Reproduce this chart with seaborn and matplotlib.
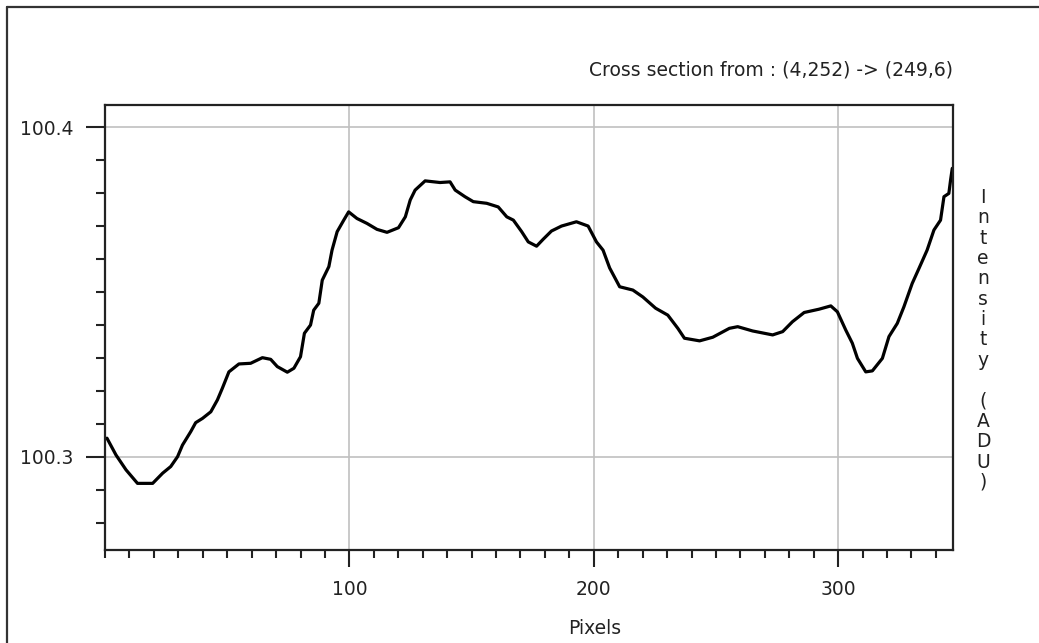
import numpy as np
import pandas as pd
import matplotlib
matplotlib.use("Agg")
import matplotlib.pyplot as plt
from matplotlib.lines import Line2D
from matplotlib.ticker import MultipleLocator
import seaborn as sns

# ---- data ----
pixels = [0.8, 4.5, 8.6, 13.3, 19.5, 23.6, 26.9, 29.7, 31.7, 35.1,
          37.1, 39.9, 43.3, 46.0, 48.0, 50.7, 54.8, 59.6, 64.4, 67.8,
          70.5, 74.6, 77.3, 80.0, 81.6, 84.1, 85.4, 87.5, 88.9, 91.6,
          92.9, 95.0, 97.7, 99.7, 103.1, 107.2, 111.3, 115.4, 120.1, 122.9,
          124.9, 126.9, 131.0, 137.1, 141.2, 143.3, 147.3, 150.7, 156.2, 160.9,
          164.4, 167.1, 170.5, 173.2, 176.6, 179.3, 182.7, 186.8, 192.9, 197.7,
          201.1, 203.8, 206.5, 210.6, 216.0, 220.1, 225.3, 230.3, 234.4, 237.1,
          243.3, 248.7, 255.5, 258.9, 265.0, 273.2, 277.3, 281.3, 286.1, 292.2,
          297.0, 299.7, 303.1, 305.8, 307.9, 311.3, 314.0, 318.1, 320.8, 324.2,
          326.9, 330.3, 333.1, 336.4, 339.2, 341.9, 343.3, 345.3, 346.0, 346.7]
intensity = [100.3057, 100.3006, 100.2961, 100.2920, 100.2920, 100.2951, 100.2971, 100.3001, 100.3036, 100.3077,
             100.3104, 100.3117, 100.3137, 100.3173, 100.3208, 100.3258, 100.3282, 100.3284, 100.3301, 100.3296,
             100.3274, 100.3257, 100.3269, 100.3304, 100.3375, 100.3400, 100.3445, 100.3466, 100.3536, 100.3577,
             100.3627, 100.3683, 100.3718, 100.3743, 100.3723, 100.3708, 100.3690, 100.3681, 100.3695, 100.3728,
             100.3779, 100.3809, 100.3837, 100.3832, 100.3834, 100.3809, 100.3789, 100.3774, 100.3769, 100.3758,
             100.3728, 100.3718, 100.3683, 100.3652, 100.3639, 100.3660, 100.3685, 100.3700, 100.3713, 100.3700,
             100.3652, 100.3627, 100.3573, 100.3516, 100.3506, 100.3485, 100.3451, 100.3430, 100.3390, 100.3360,
             100.3352, 100.3363, 100.3390, 100.3395, 100.3382, 100.3370, 100.3380, 100.3410, 100.3438, 100.3448,
             100.3458, 100.3440, 100.3385, 100.3345, 100.3299, 100.3258, 100.3261, 100.3299, 100.3365, 100.3405,
             100.3455, 100.3526, 100.3572, 100.3627, 100.3688, 100.3718, 100.3789, 100.3799, 100.3839, 100.3875]
x_major = [100, 200, 300]
y_major = [100.3, 100.4]
title_text = "Cross section from : (4,252) -> (249,6)"
x_label = "Pixels"
y_label = "Intensity (ADU)"

sns.set_style("ticks")
plt.rcParams['font.family'] = ['DejaVu Sans']
txt_color = '#222222'
FS = 13.5

W, H = 1039, 643
fig = plt.figure(figsize=(W / 100, H / 100), dpi=100)
fig.patch.set_facecolor('white')

L, R, T, B = 105, 953, 105, 550
ax = fig.add_axes([L / W, 1 - B / H, (R - L) / W, (B - T) / H])

df = pd.DataFrame({"Pixels": pixels, "Intensity": intensity})
sns.lineplot(data=df, x="Pixels", y="Intensity", color='black', linewidth=2.3,
             ax=ax, estimator=None, sort=False)

ax.set_xlim(0, 347)
ax.set_ylim(100.2718, 100.4067)

ax.set_xticks(x_major)
ax.set_xticklabels([str(v) for v in x_major])
ax.set_yticks(y_major)
ax.set_yticklabels([f"{v:.1f}" for v in y_major])
ax.xaxis.set_minor_locator(MultipleLocator(10))
ax.yaxis.set_minor_locator(MultipleLocator(0.01))

ax.grid(True, which='major', color='#c0c0c0', linewidth=1.2)
ax.set_axisbelow(True)

for s in ax.spines.values():
    s.set_color('#222222')
    s.set_linewidth(1.6)
    s.set_visible(True)

ax.tick_params(axis='x', which='major', length=12.5, width=1.5, color='#222222',
               labelsize=FS, labelcolor=txt_color, pad=9, direction='out')
ax.tick_params(axis='x', which='minor', length=6, width=1.5, color='#222222', direction='out')
ax.tick_params(axis='y', which='major', length=13.5, width=1.5, color='#222222',
               labelsize=FS, labelcolor=txt_color, pad=9, direction='out')
ax.tick_params(axis='y', which='minor', length=6.5, width=1.5, color='#222222', direction='out')

ax.set_xlabel(x_label, fontsize=FS, color=txt_color, va='center', ha='center')
ax.xaxis.set_label_coords((595 - L) / (R - L), (B - 629) / (B - T))
ax.set_ylabel("")

ax.text(1.0, (B - 70) / (B - T), title_text, transform=ax.transAxes,
        ha='right', va='center', fontsize=FS, color=txt_color)

fig.text(983 / W, 1 - 340 / H, "\n".join(list(y_label)), ha='center', va='center',
         fontsize=FS, color=txt_color, linespacing=1.09)

# outer frame (top and left edges)
fig.add_artist(Line2D([6.5 / W, 6.5 / W], [0, 1 - 6.5 / H], transform=fig.transFigure,
                      color='#333333', linewidth=1.6))
fig.add_artist(Line2D([6.5 / W, 1], [1 - 6.5 / H, 1 - 6.5 / H], transform=fig.transFigure,
                      color='#333333', linewidth=1.6))

fig.savefig("out.png", dpi=100, facecolor='white')
